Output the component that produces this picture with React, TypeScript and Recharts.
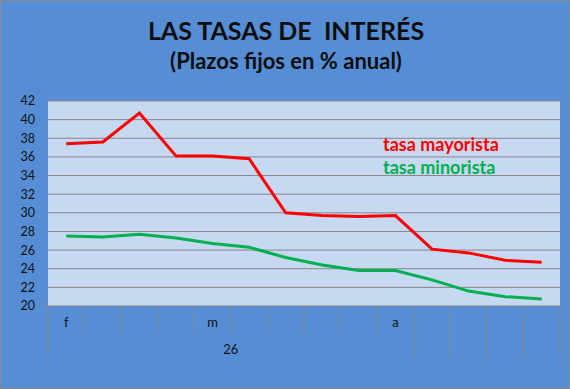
import React from 'react';
import { LineChart, Line, XAxis, YAxis, CartesianGrid, Legend } from 'recharts';

const MONTHS = ['f', '', '', '', 'm', '', '', '', '', 'a', '', '', '', ''];
const YEAR_LABEL = '26';
const YEAR_SPAN = 10; // categories covered by "26"
const MAYORISTA = [37.4, 37.6, 40.7, 36.1, 36.1, 35.8, 30.0, 29.7, 29.6, 29.7, 26.1, 25.7, 24.9, 24.7];
const MINORISTA = [27.5, 27.4, 27.7, 27.3, 26.7, 26.3, 25.2, 24.4, 23.8, 23.8, 22.8, 21.6, 21.0, 20.75];
const Y_TICKS = [20, 22, 24, 26, 28, 30, 32, 34, 36, 38, 40, 42];

const data = MONTHS.map((m, i) => ({
  idx: i,
  mes: m,
  mayorista: MAYORISTA[i],
  minorista: MINORISTA[i],
}));

const W = 570;
const H = 389;
const LEFT = 48;
const RIGHT = 10;
const PLOT_W = W - LEFT - RIGHT;
const BAND = PLOT_W / MONTHS.length;
const FONT = 'Lato, "Open Sans", sans-serif';
const LINE_GRAY = '#8a8a8a';

const CategoryTick = (props: any) => {
  const { x, y, index } = props;
  const left = x - BAND / 2;
  const isLong = (i: number) => i === 0 || i >= YEAR_SPAN;
  return (
    <g>
      <line x1={left} y1={y} x2={left} y2={y + (isLong(index) ? 53 : 27)} stroke={LINE_GRAY} strokeWidth={1} />
      {index === MONTHS.length - 1 && (
        <line x1={left + BAND} y1={y} x2={left + BAND} y2={y + 53} stroke={LINE_GRAY} strokeWidth={1} />
      )}
      {index === 0 && <line x1={left - 8} y1={y} x2={left} y2={y} stroke={LINE_GRAY} strokeWidth={1} />}
      <text x={x} y={y + 21} textAnchor="middle" fontSize={13} fontFamily={FONT} fill="#111">
        {MONTHS[index]}
      </text>
      {index === 0 && (
        <text x={left + (YEAR_SPAN * BAND) / 2} y={y + 48} textAnchor="middle" fontSize={13} fontFamily={FONT} fill="#111">
          {YEAR_LABEL}
        </text>
      )}
    </g>
  );
};

const LegendText = (props: any) => (
  <div>
    {props.payload.map((p: any) => (
      <div key={p.value} style={{ color: p.color, fontFamily: FONT, fontWeight: 700, fontSize: 18, lineHeight: '23px', whiteSpace: 'nowrap' }}>
        {p.value}
      </div>
    ))}
  </div>
);

export default function App() {
  return (
    <div
      style={{
        position: 'absolute',
        left: 0,
        top: 0,
        width: W,
        height: H,
        background: '#558ED5',
        border: '1px solid #8a8a8a',
        boxSizing: 'border-box',
      }}
    >
      <div
        style={{
          position: 'absolute',
          left: 0,
          top: 14,
          width: W,
          textAlign: 'center',
          fontFamily: FONT,
          fontWeight: 700,
          color: '#0d0d0d',
        }}
      >
        <div style={{ fontSize: 25, lineHeight: '30px' }}>LAS TASAS DE&nbsp; INTERÉS</div>
        <div style={{ fontSize: 22, lineHeight: '32px' }}>(Plazos fijos en % anual)</div>
      </div>
      <div style={{ position: 'absolute', left: -1, top: -1 }}>
        <LineChart width={W} height={H} data={data} margin={{ top: 101, right: RIGHT, left: 0, bottom: 0 }}>
          <CartesianGrid vertical={false} stroke="#868686" fill="#C6D9F1" />
          <XAxis
            dataKey="idx"
            scale="band"
            interval={0}
            height={83}
            tickLine={false}
            axisLine={false}
            tickSize={0}
            tickMargin={0}
            tick={CategoryTick}
          />
          <YAxis
            domain={[20, 42]}
            ticks={Y_TICKS}
            interval={0}
            width={LEFT}
            tickLine={false}
            axisLine={false}
            tickSize={6}
            tickMargin={7}
            tick={{ fontSize: 12.5, fontFamily: FONT, fill: '#111' }}
          />
          <Legend
            layout="vertical"
            align="center"
            verticalAlign="middle"
            wrapperStyle={{ position: 'absolute', left: 383, top: 133, width: 'auto' }}
            content={LegendText}
          />
          <Line
            dataKey="mayorista"
            name="tasa mayorista"
            stroke="#FF0000"
            strokeWidth={3}
            dot={false}
            type="linear"
            isAnimationActive={false}
          />
          <Line
            dataKey="minorista"
            name="tasa minorista"
            stroke="#00B050"
            strokeWidth={3}
            dot={false}
            type="linear"
            isAnimationActive={false}
          />
        </LineChart>
      </div>
    </div>
  );
}
